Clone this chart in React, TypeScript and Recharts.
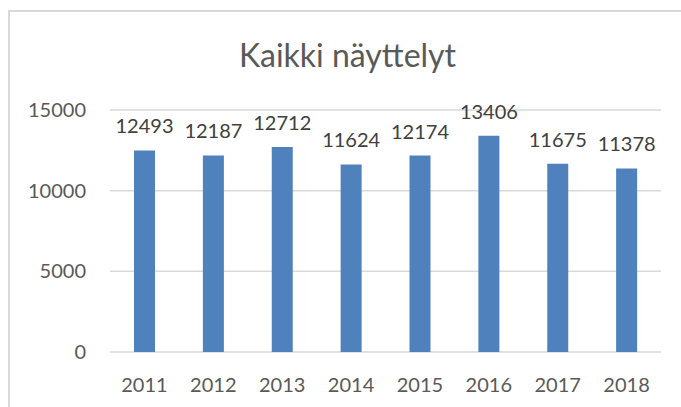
import { BarChart, Bar, XAxis, YAxis, CartesianGrid, LabelList } from "recharts";

const years = ["2011", "2012", "2013", "2014", "2015", "2016", "2017", "2018"];
const visitors = [12493, 12187, 12712, 11624, 12174, 13406, 11675, 11378];
const yTicks = [0, 5000, 10000, 15000];

const data = years.map((year, i) => ({ year, value: visitors[i] }));

const font = "Lato, 'Open Sans', sans-serif";

export default function App() {
  return (
    <div
      style={{
        position: "relative",
        width: 681,
        height: 407,
        overflow: "hidden",
        background: "#fff",
        fontFamily: font,
      }}
    >
      <style>{`body{margin:0}`}</style>
      <div
        style={{
          position: "absolute",
          left: 8,
          top: 10,
          width: 700,
          height: 420,
          border: "2px solid #d9d9d9",
          boxSizing: "border-box",
        }}
      />
      <div
        style={{
          position: "absolute",
          left: 7,
          top: 36,
          width: 681,
          textAlign: "center",
          fontSize: 32,
          lineHeight: "38px",
          color: "#595959",
        }}
      >
        Kaikki näyttelyt
      </div>
      <div style={{ position: "absolute", left: 0, top: 0 }}>
        <BarChart
          width={681}
          height={407}
          data={data}
          margin={{ top: 110, right: 20, bottom: 0, left: 0 }}
        >
          <CartesianGrid
            vertical={false}
            stroke="#d9d9d9"
            strokeWidth={1.5}
          />
          <XAxis
            dataKey="year"
            height={55}
            axisLine={false}
            tickLine={false}
            tickSize={0}
            tickMargin={26}
            tick={{ fill: "#595959", fontSize: 20, fontFamily: font }}
          />
          <YAxis
            width={110}
            domain={[0, 15000]}
            ticks={yTicks}
            axisLine={false}
            tickLine={false}
            tickSize={0}
            tickMargin={24}
            tick={{ fill: "#595959", fontSize: 20, fontFamily: font }}
          />
          <Bar dataKey="value" fill="#4f81bd" barSize={21} isAnimationActive={false}>
            <LabelList
              dataKey="value"
              position="top"
              offset={17}
              fill="#404040"
              fontSize={20}
              fontFamily={font}
            />
          </Bar>
        </BarChart>
      </div>
    </div>
  );
}
